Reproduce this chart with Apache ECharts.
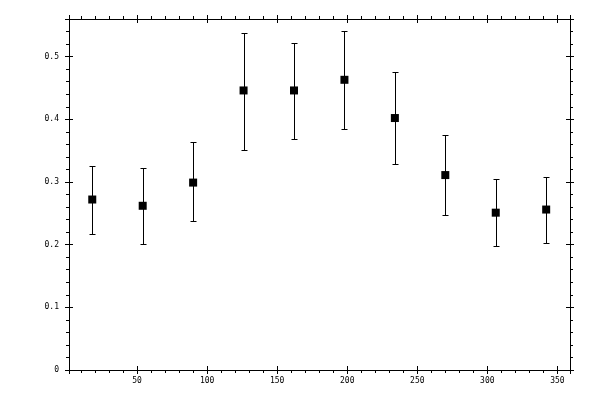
<!DOCTYPE html>
<html>
<head>
<meta charset="utf-8">
<script src="https://cdn.jsdelivr.net/npm/echarts@6/dist/echarts.min.js"></script>
<style>
  html, body { margin: 0; padding: 0; background: #fff; }
  #main { width: 600px; height: 400px; }
</style>
</head>
<body>
<div id="main"></div>
<script>
// bin centres and measured values (mean with lower / upper error ends)
var xs    = [18, 54, 90, 126, 162, 198, 234, 270, 306, 342];
var means = [0.272, 0.262, 0.299, 0.446, 0.446, 0.463, 0.402, 0.311, 0.251, 0.256];
var lows  = [0.217, 0.201, 0.237, 0.351, 0.369, 0.385, 0.329, 0.248, 0.198, 0.203];
var highs = [0.326, 0.323, 0.363, 0.538, 0.522, 0.541, 0.476, 0.375, 0.304, 0.308];

var xMin = 1.4, xMax = 359;
var yMin = 0, yMax = 0.56;

var font = { fontFamily: 'DejaVu Sans Mono', fontSize: 8, color: '#000' };
var black = { color: '#000', width: 1 };

function xAx(pos, inside, labels) {
  return {
    type: 'value', position: pos, min: xMin, max: xMax, splitNumber: 7,
    axisLine: { show: !inside, onZero: false, lineStyle: black },
    axisTick: { show: true, inside: inside, length: 4, lineStyle: black },
    minorTick: { show: !inside, splitNumber: 5, length: 3, lineStyle: black },
    axisLabel: labels ? Object.assign({ margin: 7, showMinLabel: false, showMaxLabel: false }, font) : { show: false },
    splitLine: { show: false }
  };
}
function yAx(pos, inside, labels) {
  return {
    type: 'value', position: pos, min: yMin, max: yMax, interval: 0.1,
    axisLine: { show: !inside, onZero: false, lineStyle: black },
    axisTick: { show: true, inside: inside, length: 4, lineStyle: black },
    minorTick: { show: !inside, splitNumber: 5, length: 3, lineStyle: black },
    axisLabel: labels ? Object.assign({ margin: 10, showMaxLabel: false }, font) : { show: false },
    splitLine: { show: false }
  };
}

// snap to pixel centres so 1px lines stay crisp
function px(v) { return Math.round(v) + 0.5; }

var chart = echarts.init(document.getElementById('main'), null, { renderer: 'canvas' });
chart.setOption({
  animation: false,
  backgroundColor: '#fff',
  grid: { left: 69, right: 30, top: 19, bottom: 30, containLabel: false },
  xAxis: [xAx('bottom', false, true), xAx('bottom', true, false), xAx('top', false, false), xAx('top', true, false)],
  yAxis: [yAx('left', false, true), yAx('left', true, false), yAx('right', false, false), yAx('right', true, false)],
  series: [
    {
      type: 'custom',
      xAxisIndex: 0, yAxisIndex: 0,
      data: xs.map(function (x, i) { return [x, lows[i], highs[i]]; }),
      renderItem: function (params, api) {
        var lo = api.coord([api.value(0), api.value(1)]);
        var hi = api.coord([api.value(0), api.value(2)]);
        var x = px(lo[0]), y1 = px(lo[1]), y2 = px(hi[1]);
        var w = 3;
        var st = { stroke: '#000', lineWidth: 1 };
        return {
          type: 'group',
          children: [
            { type: 'line', shape: { x1: x, y1: y1, x2: x, y2: y2 }, style: st },
            { type: 'line', shape: { x1: x - w, y1: y1, x2: x + w, y2: y1 }, style: st },
            { type: 'line', shape: { x1: x - w, y1: y2, x2: x + w, y2: y2 }, style: st }
          ]
        };
      },
      z: 2
    },
    {
      type: 'scatter',
      xAxisIndex: 0, yAxisIndex: 0,
      symbol: 'rect', symbolSize: 8,
      itemStyle: { color: '#000', opacity: 1 },
      data: xs.map(function (x, i) { return [x, means[i]]; }),
      z: 3
    }
  ]
});
</script>
</body>
</html>
